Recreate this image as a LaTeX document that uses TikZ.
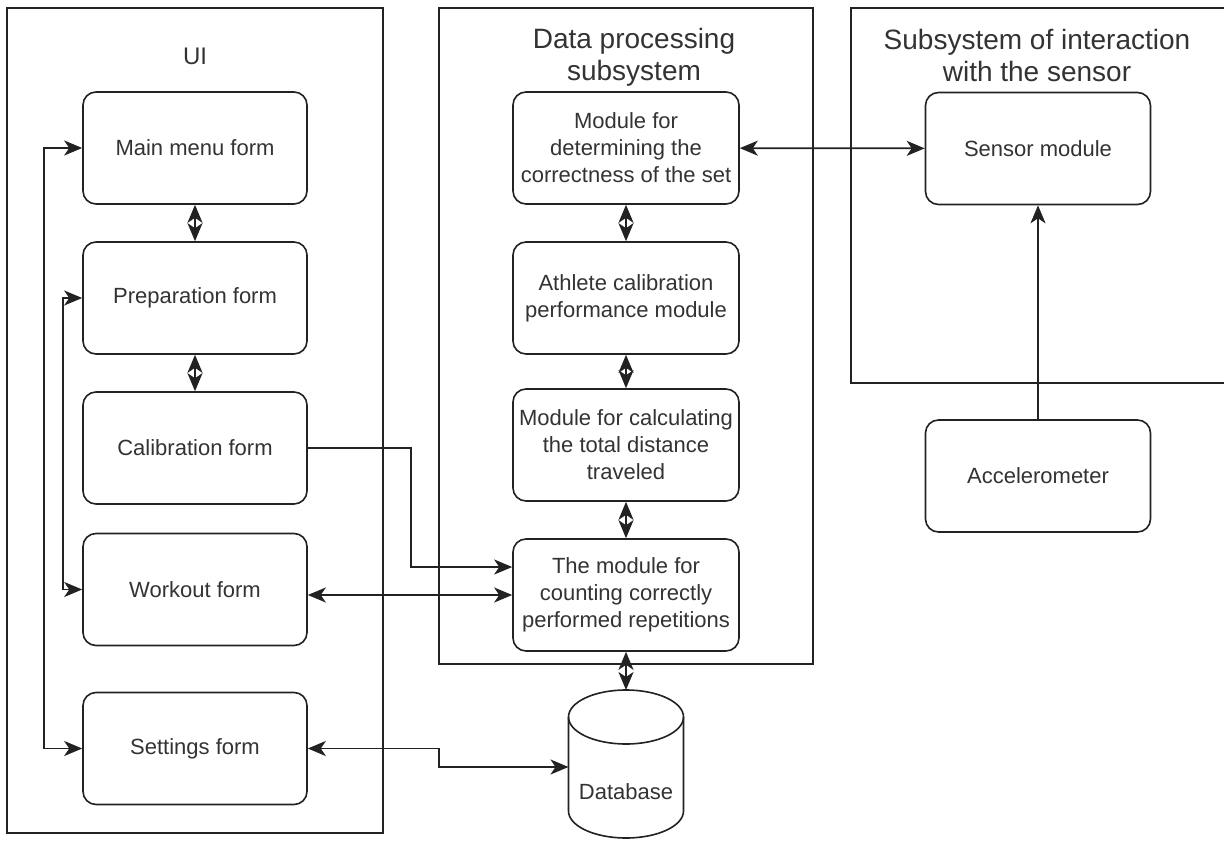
\documentclass[tikz,border=0pt]{standalone}
\usepackage{fontspec}
\setmainfont{Liberation Sans}
\usetikzlibrary{arrows.meta}
\definecolor{ln}{HTML}{222222}
\definecolor{tx}{HTML}{333333}
\begin{document}
\begin{tikzpicture}[x=1pt,y=-1pt,
  box/.style={draw=ln, line width=1.6pt, rounded corners=13pt, minimum width=224pt, minimum height=112pt, align=center, text=tx, font=\fontsize{22}{27}\selectfont, inner sep=2pt},
  cont/.style={draw=ln, line width=1.6pt},
  ttl/.style={align=center, text=tx, font=\fontsize{28}{32}\selectfont},
  conn/.style={draw=ln, line width=1.8pt},
  tip/.tip={Stealth[length=18pt,width=15pt,inset=5pt]},
  arr/.style={conn, -tip},
  darr/.style={conn, tip-tip},
]
\path[fill=white, use as bounding box] (0,0) rectangle (1224,843);

% containers
\node[cont, minimum width=376pt, minimum height=825pt] (uibox) at (195,420.5) {};
\node[cont, minimum width=374pt, minimum height=656pt] (dpbox) at (626,336) {};
\draw[cont] (1224,8) -- (851,8) -- (851,383) -- (1224,383);

% titles
\node[ttl, font=\fontsize{24}{28}\selectfont] (uititle) at (195,56) {UI};
\node[ttl] (dptitle) at (634,57) {Data processing\\subsystem};
\node[ttl] (sstitle) at (1037,55) {Subsystem of interaction\\with the sensor};

% UI boxes
\node[box] (main) at (195,148) {Main menu form};
\node[box] (prep) at (195,298) {Preparation form};
\node[box] (calib) at (195,448) {Calibration form};
\node[box] (workout) at (195,589.5) {Workout form};
\node[box] (settings) at (195,748.5) {Settings form};

% data processing boxes
\node[box, minimum width=226pt] (det) at (626,148) {Module for\\determining the\\correctness of the set};
\node[box, minimum width=226pt] (ath) at (626,298) {Athlete calibration\\performance module};
\node[box, minimum width=226pt] (calc) at (626,445) {Module for calculating\\the total distance\\traveled};
\node[box, minimum width=226pt] (count) at (626,595) {The module for\\counting correctly\\performed repetitions};

% sensor boxes
\node[box, minimum width=225pt] (sensor) at (1038,148.5) {Sensor module};
\node[box, minimum width=225pt] (accel) at (1038,476) {Accelerometer};

% database
\path[draw=ln, line width=1.6pt, fill=white] (568.5,717) -- (568.5,811) arc[start angle=180, end angle=0, x radius=57.5, y radius=27] -- (683.5,717);
\draw[draw=ln, line width=1.6pt] (626,717) ellipse [x radius=57.5, y radius=27];
\node[text=tx, font=\fontsize{22}{27}\selectfont] (db) at (626,792) {Database};
\coordinate (dbtop) at (626,690);
\coordinate (dbleft) at (568.5,767);

% connectors
\draw[darr] (main) -- (prep);
\draw[darr] (prep) -- (calib);
\draw[darr] (det) -- (ath);
\draw[darr] (ath) -- (calc);
\draw[darr] (calc) -- (count);
\draw[darr] (count.south) -- (dbtop);
\draw[darr] (det) -- (sensor);
\draw[arr] (accel) -- (sensor);
\draw[darr] (main.west) -- ++(-38,0) |- (settings.west);
\draw[darr] (prep.west) -- ++(-19,0) |- (workout.west);
\draw[arr] (calib.east) -- ++(103,0) |- ([yshift=28pt]count.west);
\draw[darr] (workout.east |- count.west) -- (count.west);
\draw[darr] (settings.east) -- ++(131,0) |- (dbleft);
\end{tikzpicture}
\end{document}
